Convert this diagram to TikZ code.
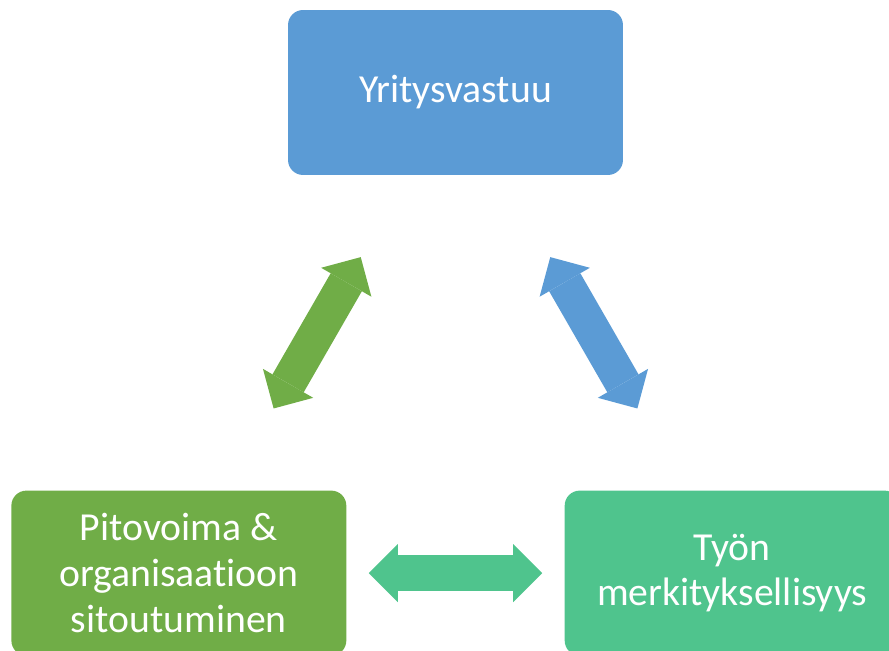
\documentclass[tikz,border=0pt]{standalone}
\usepackage{fontspec}
\setmainfont{Carlito}[Ligatures=NoCommon]
\usetikzlibrary{positioning, arrows.meta}
\definecolor{boxblue}{RGB}{91,155,213}
\definecolor{boxgreen}{RGB}{112,173,71}
\definecolor{boxteal}{RGB}{79,196,141}

\begin{document}
\begin{tikzpicture}[
x=0.02cm, y=-0.02cm,
topic/.style={rectangle, rounded corners=0.3cm, fill=#1, text=white, minimum width=6.7cm, minimum height=3.3cm, align=center, font=\fontsize{22.6}{26}\selectfont, inner sep=0pt},
link/.style={draw=#1, line width=0.72cm, shorten <=3.8cm, shorten >=3.8cm, {Triangle[length=0.58cm,width=1.16cm,line width=0pt]}-{Triangle[length=0.58cm,width=1.16cm,line width=0pt]}}
]
\useasboundingbox (0,0) rectangle (889,651);

%Nodes
\node[topic=boxblue] (yritys) at (455.5,92.5) {Yritysvastuu};
\node[topic=boxgreen] (pito) [below left=6.3cm and -1.18cm of yritys] {Pitovoima \&\\organisaatioon\\sitoutuminen};
\node[topic=boxteal] (tyon) [below right=6.3cm and -1.18cm of yritys] {Työn\\merkityksellisyys};

%Arrows
\foreach \i/\j/\c in {% from/to/colour
      pito/yritys/boxgreen,
      yritys/tyon/boxblue,
      pito/tyon/boxteal}
   \draw[link=\c] (\i.center) -- (\j.center);
\end{tikzpicture}
\end{document}
